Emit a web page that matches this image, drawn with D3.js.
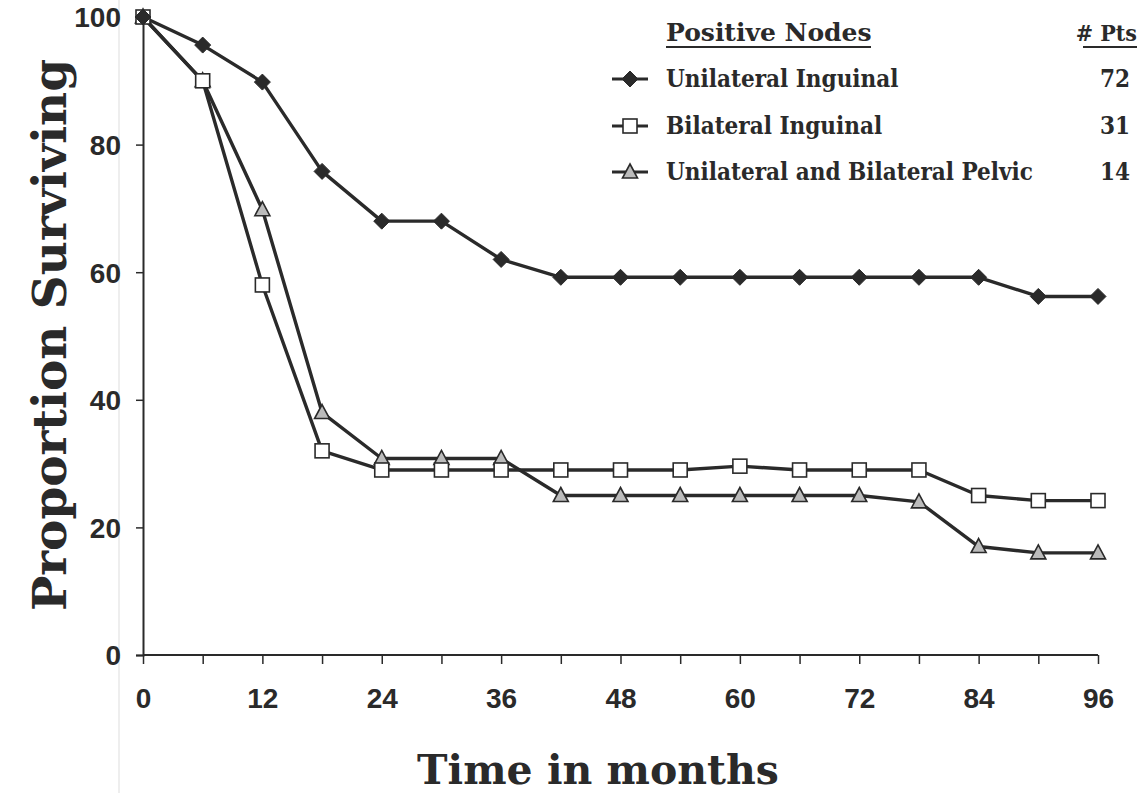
<!DOCTYPE html>
<html><head><meta charset="utf-8">
<script src="https://cdn.jsdelivr.net/npm/d3@7"></script>
<style>
html,body{margin:0;padding:0;background:#fff;}
svg{display:block;}
</style></head>
<body>
<svg id="c" width="1140" height="793"></svg>
<script>
const months = [0,6,12,18,24,30,36,42,48,54,60,66,72,78,84,90,96];
const unilateralInguinal = [100,95.6,89.8,75.8,68,68,62,59.2,59.2,59.2,59.2,59.2,59.2,59.2,59.2,56.2,56.2];
const bilateralInguinal = [100,90,58,32,29,29,29,29,29,29,29.6,29,29,29,25,24.2,24.2];
const pelvic = [100,90,69.8,38,30.8,30.8,30.8,25,25,25,25,25,25,24,17,16,16];
const xTickLabels = [0,12,24,36,48,60,72,84,96];
const yTickLabels = [0,20,40,60,80,100];
const seriesNames = ["Unilateral Inguinal","Bilateral Inguinal","Unilateral and Bilateral Pelvic"];
const seriesPts = [72,31,14];

const svg = d3.select("#c");
const ink = "#2a2a2a";
const x = d3.scaleLinear().domain([0,96]).range([143,1098]);
const y = d3.scaleLinear().domain([0,100]).range([655,17]);

// faint scan line
svg.append("line").attr("x1",119).attr("x2",119).attr("y1",0).attr("y2",793)
  .attr("stroke","#ddd").attr("stroke-width",1);

// axes
const yAxis = d3.axisLeft(y).tickValues(yTickLabels).tickSize(7).tickFormat(d3.format("d"));
const gy = svg.append("g").attr("transform","translate(143,0)").call(yAxis);
gy.select(".domain").attr("stroke",ink).attr("stroke-width",2);
gy.selectAll(".tick line").attr("stroke",ink).attr("stroke-width",1.5);
gy.selectAll(".tick text").attr("x",-22).attr("dy","0.35em")
  .style("font-family","'Liberation Sans Narrow','Liberation Sans',sans-serif")
  .style("font-weight","bold").style("font-size","28px").attr("fill",ink);

const xAxis = d3.axisBottom(x).tickValues(months).tickSize(9)
  .tickFormat(d => xTickLabels.includes(d) ? d : "");
const gx = svg.append("g").attr("transform","translate(0,655)").call(xAxis);
gx.select(".domain").attr("stroke",ink).attr("stroke-width",2).attr("d","M143,0H1098");
gx.selectAll(".tick line").attr("stroke",ink).attr("stroke-width",1.5);
gx.selectAll(".tick text").attr("y",33).attr("dy","0.71em")
  .style("font-family","'Liberation Sans Narrow','Liberation Sans',sans-serif")
  .style("font-weight","bold").style("font-size","28px").attr("fill",ink);

// titles
svg.append("text").attr("transform","translate(66,335) rotate(-90)")
  .attr("text-anchor","middle")
  .style("font-family","'DejaVu Serif',serif").style("font-weight","bold")
  .style("font-size","47px").attr("fill",ink).text("Proportion Surviving");
svg.append("text").attr("x",598).attr("y",784).attr("text-anchor","middle")
  .style("font-family","'DejaVu Serif',serif").style("font-weight","bold")
  .style("font-size","41px").attr("fill",ink).text("Time in months");

// series
const line = d3.line().x((d,i)=>x(months[i])).y(d=>y(d));
const series = [
  {vals: unilateralInguinal, sym:"diamond"},
  {vals: bilateralInguinal, sym:"square"},
  {vals: pelvic, sym:"triangle"}
];
function drawSym(g, sym, cx, cy){
  if(sym==="diamond"){
    g.append("path").attr("d",`M${cx},${cy-8}L${cx+8},${cy}L${cx},${cy+8}L${cx-8},${cy}Z`)
      .attr("fill",ink).attr("stroke",ink).attr("stroke-width",1);
  } else if(sym==="square"){
    g.append("rect").attr("x",cx-7).attr("y",cy-7).attr("width",14).attr("height",14)
      .attr("fill","#fff").attr("stroke",ink).attr("stroke-width",1.6);
  } else {
    g.append("path").attr("d",`M${cx},${cy-8}L${cx+7.5},${cy+6}L${cx-7.5},${cy+6}Z`)
      .attr("fill","#bbb").attr("stroke",ink).attr("stroke-width",1.6);
  }
}
series.slice().reverse().forEach(s=>{
  svg.append("path").datum(s.vals).attr("d",line).attr("fill","none")
    .attr("stroke",ink).attr("stroke-width",3.4).attr("stroke-linejoin","round");
});
series.slice().reverse().forEach(s=>{
  const g = svg.append("g");
  s.vals.forEach((v,i)=>drawSym(g,s.sym,x(months[i]),y(v)));
});

// legend
const lf = "'DejaVu Serif Condensed','DejaVu Serif',serif";
const hf = "'DejaVu Serif',serif";
svg.append("text").attr("x",666).attr("y",41).style("font-family",hf).style("font-weight","bold")
  .style("font-size","25px").attr("fill",ink).text("Positive Nodes");
svg.append("line").attr("x1",666).attr("x2",871).attr("y1",47).attr("y2",47).attr("stroke",ink).attr("stroke-width",2);
svg.append("text").attr("x",1137).attr("y",41).attr("text-anchor","end").style("font-family",lf).style("font-weight","bold")
  .style("font-size","23px").attr("fill",ink).text("# Pts");
svg.append("line").attr("x1",1083).attr("x2",1137).attr("y1",47).attr("y2",47).attr("stroke",ink).attr("stroke-width",2);
const ly = [79,126,172];
seriesNames.forEach((n,i)=>{
  svg.append("line").attr("x1",612).attr("x2",648).attr("y1",ly[i]).attr("y2",ly[i]).attr("stroke",ink).attr("stroke-width",3);
  drawSym(svg, series[i].sym, 630, ly[i]);
  svg.append("text").attr("x",666).attr("y",ly[i]).attr("dy","0.35em").style("font-family",lf).style("font-weight","bold")
    .style("font-size","24px").attr("fill",ink).text(n);
  svg.append("text").attr("x",1130).attr("y",ly[i]).attr("dy","0.35em").attr("text-anchor","end").style("font-family",lf).style("font-weight","bold")
    .style("font-size","24px").attr("fill",ink).text(seriesPts[i]);
});
</script>
</body></html>
